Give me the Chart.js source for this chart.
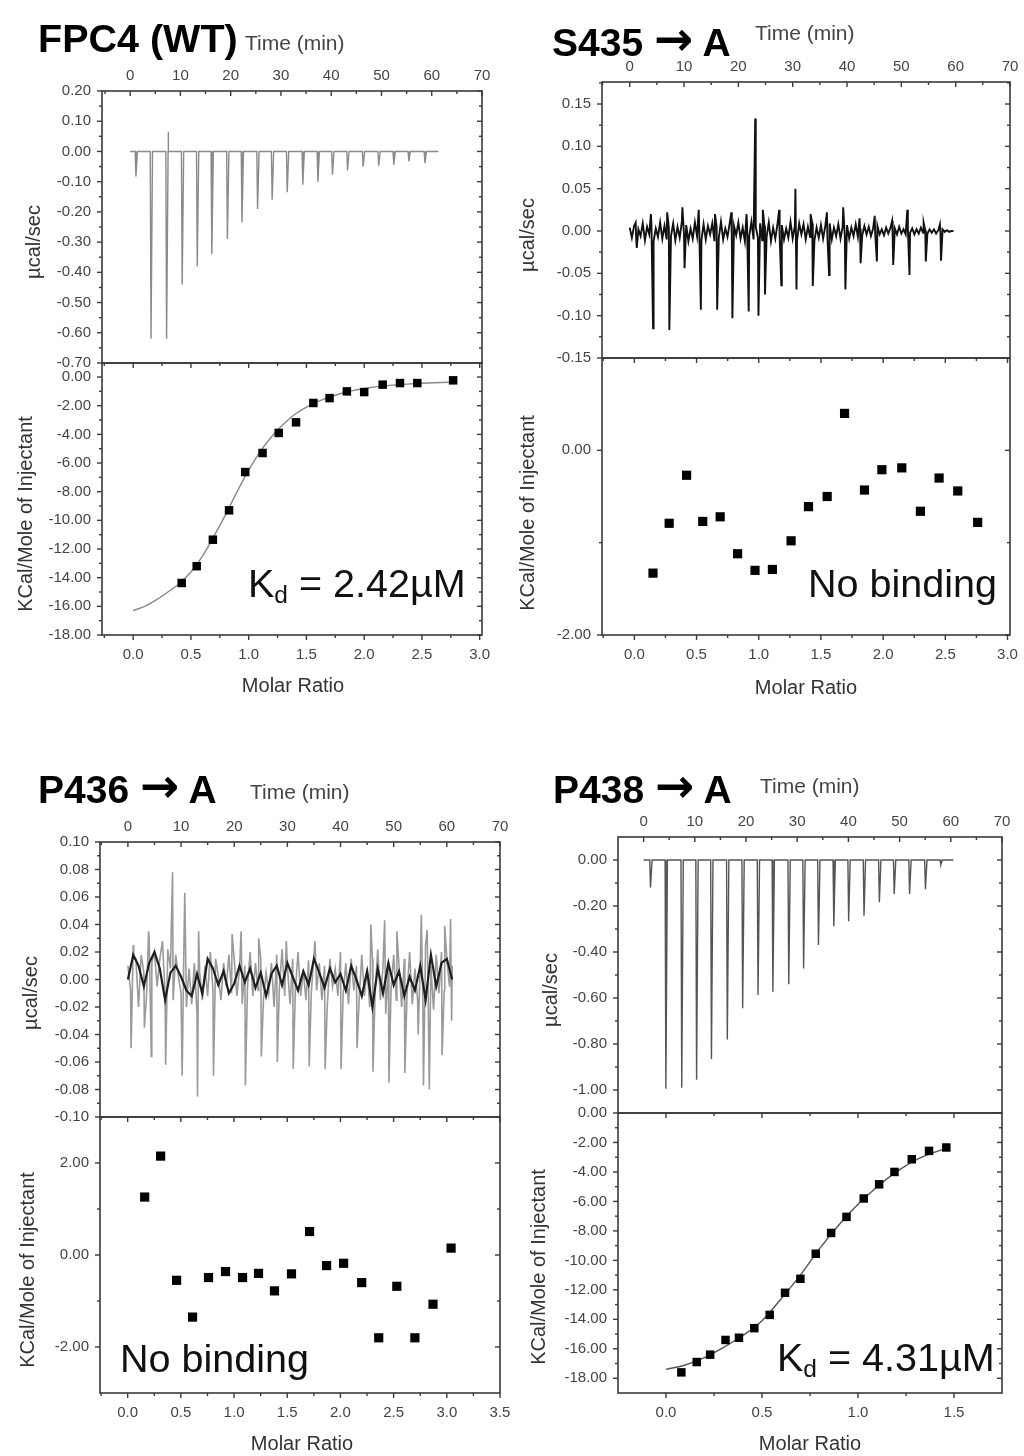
<!DOCTYPE html>
<html>
<head>
<meta charset="utf-8">
<script src="https://cdn.jsdelivr.net/npm/chart.js@4.4.1/dist/chart.umd.min.js"></script>
<style>
  body { margin: 0; background: #fff; }
  #page { position: relative; width: 1024px; height: 1456px; overflow: hidden; font-family: "Liberation Sans", Arial, sans-serif; }
  canvas { position: absolute; }
  .t { position: absolute; white-space: nowrap; line-height: 1; }
  .title { font-weight: bold; color: #000; }
  .arrow { font-family: "DejaVu Sans", sans-serif; font-weight: bold; font-size: 1.2em; position: relative; top: -0.02em; }
  .time { color: #444; }
  .ax { color: #333; }
  .big { color: #111; }
  .rot { transform: translate(-50%, -50%) rotate(-90deg); }
  .ctr { transform: translate(-50%, -50%); }
  .sub { font-size: 0.62em; position: relative; top: 0.28em; }
</style>
</head>
<body>
<div id="page"></div>
<script>
// ---------- FPC4 (WT) ----------
const wtInjTime = [1.0, 4.0, 7.1, 10.2, 13.2, 16.1, 19.2, 22.1, 25.2, 28.1, 31.1, 34.2, 37.2, 40.1, 43.1, 46.2, 49.3, 52.3, 55.3, 58.5];
const wtInjPeak = [-0.083, -0.62, -0.62, -0.44, -0.38, -0.34, -0.29, -0.235, -0.19, -0.16, -0.135, -0.11, -0.10, -0.077, -0.063, -0.05, -0.047, -0.044, -0.033, -0.039];
const wtSpikeTime = [7.6];
const wtSpikeVal = [0.065];
const wtRatio = [0.42, 0.55, 0.69, 0.83, 0.97, 1.12, 1.26, 1.41, 1.56, 1.70, 1.85, 2.00, 2.16, 2.31, 2.46, 2.77];
const wtHeat = [-14.37, -13.2, -11.35, -9.3, -6.63, -5.3, -3.9, -3.16, -1.81, -1.47, -1.0, -1.05, -0.53, -0.42, -0.42, -0.23];
const wtFitRatio = [0, 0.1, 0.2, 0.3, 0.4, 0.5, 0.6, 0.7, 0.8, 0.9, 1.0, 1.1, 1.2, 1.3, 1.4, 1.5, 1.6, 1.7, 1.8, 1.9, 2.0, 2.2, 2.4, 2.6, 2.8];
const wtFitHeat = [-16.3, -16.0, -15.55, -15.0, -14.4, -13.6, -12.5, -11.1, -9.6, -8.0, -6.5, -5.2, -4.15, -3.3, -2.6, -2.1, -1.7, -1.4, -1.15, -0.95, -0.8, -0.6, -0.48, -0.4, -0.35];

// ---------- S435 -> A ----------
const s435Step = 0.4;
const s435Noise = [
  0.004, -0.008, 0.006, -0.010, 0.002, -0.006, 0.009, -0.011, 0.005, -0.004,
  0.008, -0.012, 0.003, -0.007, 0.010, -0.009, 0.006, -0.010, 0.004, -0.006,
  0.009, -0.011, 0.005, -0.008, 0.011, -0.005, 0.007, -0.012, 0.003, -0.009,
  0.010, -0.006, 0.004, -0.011, 0.008, -0.010, 0.006, -0.004, 0.009, -0.012,
  0.005, -0.008, 0.011, -0.010, 0.003, -0.007, 0.009, -0.011, 0.006, -0.005,
  0.010, -0.009, 0.004, -0.012, 0.008, -0.006, 0.011, -0.010, 0.005, -0.008,
  0.009, -0.011, 0.006, -0.007, 0.010, -0.012, 0.004, -0.009, 0.008, -0.005,
  0.007, -0.010, 0.003, -0.008, 0.011, -0.009, 0.006, -0.011, 0.009, -0.004,
  0.008, -0.010, 0.005, -0.007, 0.009, -0.011, 0.004, -0.008, 0.007, -0.009,
  0.006, -0.008, 0.009, -0.010, 0.004, -0.006, 0.008, -0.009, 0.005, -0.007,
  0.007, -0.009, 0.004, -0.006, 0.008, -0.007, 0.003, -0.005, 0.006, -0.004,
  0.005, -0.006, 0.003, -0.005, 0.006, -0.004, 0.002, -0.005, 0.004, -0.003,
  0.004, -0.005, 0.003, -0.004, 0.005, -0.003, 0.002, -0.004, 0.003, -0.002,
  0.003, -0.004, 0.002, -0.003, 0.004, -0.002, 0.001, -0.003, 0.002, -0.002,
  0.002, -0.003, 0.001, -0.002, 0.002, -0.001, 0.001, -0.001, 0.000, 0.000
];
const s435DownTime = [1.3, 4.3, 7.3, 10.1, 13.1, 16.1, 18.9, 21.9, 23.7, 24.9, 27.9, 30.7, 33.7, 36.7, 39.7, 42.5, 45.5, 48.5, 51.5, 54.5, 57.3];
const s435DownVal = [-0.02, -0.115, -0.117, -0.044, -0.093, -0.093, -0.103, -0.095, -0.10, -0.075, -0.064, -0.069, -0.065, -0.052, -0.069, -0.038, -0.036, -0.040, -0.052, -0.036, -0.035];
const s435UpTime = [1.1, 3.9, 6.9, 9.7, 12.7, 15.7, 18.7, 21.5, 23.1, 24.5, 27.5, 30.5, 33.3, 36.3, 39.3, 42.3, 45.1, 48.3, 51.1, 54.1, 57.1];
const s435UpVal = [0.01, 0.02, 0.022, 0.028, 0.025, 0.02, 0.022, 0.02, 0.133, 0.025, 0.025, 0.05, 0.02, 0.022, 0.028, 0.015, 0.018, 0.012, 0.025, 0.01, 0.008];
const s435Ratio = [0.15, 0.28, 0.42, 0.55, 0.69, 0.83, 0.97, 1.11, 1.26, 1.40, 1.55, 1.69, 1.85, 1.99, 2.15, 2.30, 2.45, 2.60, 2.76];
const s435Heat = [-1.33, -0.79, -0.27, -0.77, -0.72, -1.12, -1.30, -1.29, -0.98, -0.61, -0.50, 0.40, -0.43, -0.21, -0.19, -0.66, -0.30, -0.44, -0.78];

// ---------- P436 -> A ----------
const p436Step = 0.5;
const p436Noise = [
  0.010, -0.008, 0.025, 0.015, -0.020, 0.018, 0.005, -0.012, 0.030, 0.012,
  0.020, -0.005, 0.015, 0.028, -0.010, 0.022, 0.008, -0.015, 0.018, 0.002,
  -0.010, 0.015, -0.020, 0.008, -0.018, 0.012, -0.025, 0.005, -0.015, 0.010,
  -0.012, 0.020, -0.008, 0.015, 0.003, -0.015, 0.012, -0.005, 0.018, -0.010,
  0.015, -0.012, 0.008, -0.018, 0.010, -0.005, 0.020, -0.012, 0.012, -0.008,
  0.015, -0.015, 0.005, -0.010, 0.012, -0.020, 0.018, -0.006, 0.022, -0.012,
  0.010, -0.018, 0.015, -0.008, 0.020, -0.012, 0.006, -0.015, 0.014, -0.010,
  0.018, -0.008, 0.012, -0.015, 0.010, -0.020, 0.015, -0.005, 0.008, -0.012,
  0.020, -0.010, 0.012, -0.018, 0.015, -0.008, 0.010, -0.015, 0.018, -0.012,
  0.008, -0.020, 0.015, -0.010, 0.022, -0.015, 0.010, -0.025, 0.012, -0.008,
  0.018, -0.015, 0.010, -0.020, 0.015, -0.012, 0.020, -0.018, 0.008, -0.015,
  0.012, -0.020, 0.025, -0.015, 0.010, -0.022, 0.018, -0.010, 0.020, -0.008,
  0.015, -0.005, 0.010
];
const p436CoreStep = 1.0;
const p436Core = [
  0.000, 0.018, 0.010, -0.005, 0.012, 0.020, 0.008, -0.015, 0.005, 0.010,
  0.002, -0.008, -0.012, 0.004, -0.010, 0.015, 0.008, -0.004, 0.006, -0.010,
  -0.003, 0.010, -0.002, 0.008, -0.006, 0.005, -0.012, 0.004, 0.010, -0.004,
  0.012, 0.002, -0.008, 0.006, -0.004, 0.015, 0.005, -0.006, 0.008, -0.002,
  0.004, -0.008, 0.010, 0.000, -0.012, 0.006, -0.020, 0.008, -0.010, 0.012,
  -0.004, 0.006, -0.012, 0.002, -0.008, 0.010, -0.015, 0.018, -0.005, 0.012,
  0.015, 0.000
];
const p436SpikeTime = [0.6, 1.1, 3.1, 3.9, 4.4, 7.1, 8.4, 10.2, 10.7, 13.1, 13.3, 16.1, 19.6, 21.3, 22.1, 24.6, 25.1, 28.1, 29.8, 31.1, 34.1, 35.2, 37.1, 40.1, 43.1, 45.7, 46.1, 48.3, 49.1, 50.6, 52.1, 54.6, 55.2, 55.6, 56.3, 56.7, 59.1, 59.6, 60.7, 60.9];
const p436SpikeVal = [-0.05, 0.015, -0.035, 0.035, -0.056, -0.062, 0.078, -0.07, 0.063, -0.085, 0.035, -0.07, 0.033, 0.035, -0.077, 0.03, -0.056, -0.06, 0.028, -0.065, -0.063, 0.028, -0.065, -0.065, -0.05, 0.04, -0.067, 0.043, -0.075, 0.035, -0.068, -0.04, 0.047, -0.077, 0.036, -0.08, -0.055, 0.039, 0.044, -0.03];
const p436Ratio = [0.16, 0.31, 0.46, 0.61, 0.76, 0.92, 1.08, 1.23, 1.38, 1.54, 1.71, 1.87, 2.03, 2.20, 2.36, 2.53, 2.70, 2.87, 3.04];
const p436Heat = [1.26, 2.15, -0.55, -1.35, -0.49, -0.36, -0.49, -0.40, -0.78, -0.41, 0.51, -0.23, -0.18, -0.60, -1.80, -0.68, -1.80, -1.07, 0.15];

// ---------- P438 -> A ----------
const p438InjTime = [1.2, 4.2, 7.3, 10.2, 13.1, 16.2, 19.2, 22.2, 25.1, 28.2, 31.1, 34.0, 37.0, 39.9, 42.9, 45.9, 48.8, 51.8, 54.9, 57.9];
const p438InjPeak = [-0.12, -0.995, -0.99, -0.955, -0.865, -0.78, -0.645, -0.587, -0.573, -0.54, -0.472, -0.37, -0.288, -0.266, -0.242, -0.184, -0.148, -0.148, -0.127, -0.02];
const p438Ratio = [0.08, 0.16, 0.23, 0.31, 0.38, 0.46, 0.54, 0.62, 0.70, 0.78, 0.86, 0.94, 1.03, 1.11, 1.19, 1.28, 1.37, 1.46];
const p438Heat = [-17.6, -16.9, -16.4, -15.4, -15.25, -14.6, -13.7, -12.2, -11.25, -9.55, -8.14, -7.05, -5.8, -4.84, -4.0, -3.14, -2.57, -2.34];
const p438FitRatio = [0.0, 0.1, 0.2, 0.3, 0.4, 0.5, 0.6, 0.7, 0.8, 0.9, 1.0, 1.1, 1.2, 1.3, 1.4, 1.47];
const p438FitHeat = [-17.4, -17.1, -16.6, -15.9, -15.1, -14.1, -12.6, -11.0, -9.2, -7.6, -6.2, -5.0, -4.0, -3.2, -2.65, -2.35];

// ---------- tick labels ----------
const timeTicks = [0, 10, 20, 30, 40, 50, 60, 70];
const ratioTicks3 = [0, 0.5, 1.0, 1.5, 2.0, 2.5, 3.0];
const ratioTicks35 = [0, 0.5, 1.0, 1.5, 2.0, 2.5, 3.0, 3.5];
const ratioTicks15 = [0, 0.5, 1.0, 1.5];
const wtRawTicks = [-0.7, -0.6, -0.5, -0.4, -0.3, -0.2, -0.1, 0, 0.1, 0.2];
const heatTicks18 = [-18, -16, -14, -12, -10, -8, -6, -4, -2, 0];
const s435RawTicks = [-0.15, -0.1, -0.05, 0, 0.05, 0.1, 0.15];
const s435HeatTicks = [-2, 0];
const p436RawTicks = [-0.1, -0.08, -0.06, -0.04, -0.02, 0, 0.02, 0.04, 0.06, 0.08, 0.1];
const p436HeatTicks = [-2, 0, 2];
const p438RawTicks = [-1.0, -0.8, -0.6, -0.4, -0.2, 0];

const FONT = '"Liberation Sans", Arial, sans-serif';
const page = document.getElementById('page');

function injTrace(times, peaks, tEnd, spikeT, spikeV) {
  const pts = [{x: 0, y: 0}];
  times.forEach((t, i) => {
    pts.push({x: t, y: 0}, {x: t + 0.15, y: peaks[i]}, {x: t + 0.45, y: 0});
  });
  (spikeT || []).forEach((t, i) => {
    pts.push({x: t - 0.05, y: 0}, {x: t, y: spikeV[i]}, {x: t + 0.05, y: 0});
  });
  pts.push({x: tEnd, y: 0});
  return pts.sort((a, b) => a.x - b.x);
}

function noisyTrace(step, noise, spikeLists) {
  const pts = noise.map((v, i) => ({x: i * step, y: v}));
  spikeLists.forEach(([ts, vs]) => ts.forEach((t, i) => pts.push({x: t, y: vs[i]})));
  return pts.sort((a, b) => a.x - b.x);
}

const xy = (xs, ys) => xs.map((x, i) => ({x, y: ys[i]}));

function line(data, color, width) {
  return {data, showLine: true, borderColor: color, borderWidth: width, pointRadius: 0, tension: 0, fill: false};
}
function squares(data, r) {
  return {data, showLine: false, pointStyle: 'rect', pointRadius: r, backgroundColor: '#000', borderWidth: 0};
}
function smooth(data, color, width) {
  return {data, showLine: true, borderColor: color, borderWidth: width, pointRadius: 0, tension: 0.4, cubicInterpolationMode: 'monotone', fill: false};
}

// frame + Origin style tick marks on all four sides
const framePlugin = {
  id: 'frame',
  afterDraw(chart) {
    const {ctx, chartArea: a} = chart;
    const sx = chart.scales.x, sy = chart.scales.y;
    const bottomTicks = chart.options.plugins.frame.bottomTicks;
    const mids = s => {
      const t = s.ticks.map(k => k.value);
      const st = t[1] - t[0];
      const out = [];
      for (let i = -1; i < t.length; i++) {
        const v = t[0] + st * (i + 0.5);
        if (v > s.min + 1e-9 && v < s.max - 1e-9) out.push(v);
      }
      return out;
    };
    const seg = (x1, y1, x2, y2) => { ctx.beginPath(); ctx.moveTo(x1, y1); ctx.lineTo(x2, y2); ctx.stroke(); };
    ctx.save();
    ctx.strokeStyle = '#3a3a3a';
    ctx.lineWidth = 1.6;
    ctx.strokeRect(a.left, a.top, a.right - a.left, a.bottom - a.top);
    ctx.lineWidth = 1.4;
    [[sx.ticks.map(k => k.value), 5], [mids(sx), 3]].forEach(([vals, len]) => vals.forEach(v => {
      const px = sx.getPixelForValue(v);
      seg(px, a.top, px, a.top + len);
      if (bottomTicks) seg(px, a.bottom, px, a.bottom + len);
    }));
    [[sy.ticks.map(k => k.value), 5], [mids(sy), 3]].forEach(([vals, len]) => vals.forEach(v => {
      const py = sy.getPixelForValue(v);
      seg(a.left - len, py, a.left, py);
      seg(a.right - len, py, a.right, py);
    }));
    ctx.restore();
  }
};

function plot(p) {
  const padL = 100, padR = 24, padT = 40, padB = 44, AXW = 60, AXH = 30;
  const c = document.createElement('canvas');
  c.width = p.frame.w + padL + padR;
  c.height = p.frame.h + padT + padB;
  c.style.left = (p.frame.l - padL) + 'px';
  c.style.top = (p.frame.t - padT) + 'px';
  page.appendChild(c);
  const onTop = p.x.pos === 'top';
  return new Chart(c, {
    type: 'scatter',
    data: {datasets: p.datasets},
    options: {
      responsive: false,
      animation: false,
      devicePixelRatio: 1,
      layout: {padding: {left: padL - AXW, right: padR, top: onTop ? padT - AXH : padT, bottom: onTop ? padB : padB - AXH}},
      plugins: {legend: {display: false}, tooltip: {enabled: false}, frame: {bottomTicks: !onTop}},
      scales: {
        x: {
          type: 'linear', position: p.x.pos, min: p.x.min, max: p.x.max,
          afterFit: s => { s.height = AXH; },
          afterBuildTicks: s => { s.ticks = p.x.ticks.map(v => ({value: v})); },
          grid: {display: false, drawTicks: false}, border: {display: false},
          ticks: {autoSkip: false, maxRotation: 0, padding: onTop ? 6 : 11, color: '#444',
                  font: {family: FONT, size: 15}, callback: p.x.fmt}
        },
        y: {
          type: 'linear', position: 'left', min: p.y.min, max: p.y.max,
          afterFit: s => { s.width = AXW; },
          afterBuildTicks: s => { s.ticks = p.y.ticks.map(v => ({value: v})); },
          grid: {display: false, drawTicks: false}, border: {display: false},
          ticks: {autoSkip: false, padding: 11, color: '#444',
                  font: {family: FONT, size: 15}, callback: v => v.toFixed(2)}
        }
      }
    },
    plugins: [framePlugin]
  });
}

const fmtTime = v => String(v);
const fmtRatio = v => v.toFixed(1);

// ----- FPC4 (WT) -----
plot({frame: {l: 102, t: 91, w: 380, h: 272},
  x: {pos: 'top', min: -5.6, max: 70, ticks: timeTicks, fmt: fmtTime},
  y: {min: -0.7, max: 0.2, ticks: wtRawTicks},
  datasets: [line(injTrace(wtInjTime, wtInjPeak, 61.3, wtSpikeTime, wtSpikeVal), '#8a8a8a', 1.4)]});
plot({frame: {l: 102, t: 363, w: 380, h: 272},
  x: {pos: 'bottom', min: -0.27, max: 3.02, ticks: ratioTicks3, fmt: fmtRatio},
  y: {min: -18, max: 0.98, ticks: heatTicks18},
  datasets: [squares(xy(wtRatio, wtHeat), 6), smooth(xy(wtFitRatio, wtFitHeat), '#888', 1.4)]});

// ----- S435 -> A -----
plot({frame: {l: 602, t: 82, w: 408, h: 276},
  x: {pos: 'top', min: -5.1, max: 70, ticks: timeTicks, fmt: fmtTime},
  y: {min: -0.15, max: 0.176, ticks: s435RawTicks},
  datasets: [line(noisyTrace(s435Step, s435Noise, [[s435DownTime, s435DownVal], [s435UpTime, s435UpVal]]), '#111', 1.9)]});
plot({frame: {l: 602, t: 358, w: 408, h: 277},
  x: {pos: 'bottom', min: -0.26, max: 3.02, ticks: ratioTicks3, fmt: fmtRatio},
  y: {min: -2, max: 1, ticks: s435HeatTicks},
  datasets: [squares(xy(s435Ratio, s435Heat), 6.5)]});

// ----- P436 -> A -----
plot({frame: {l: 100, t: 842, w: 400, h: 275},
  x: {pos: 'top', min: -5.25, max: 70, ticks: timeTicks, fmt: fmtTime},
  y: {min: -0.1, max: 0.1, ticks: p436RawTicks},
  datasets: [
    line(noisyTrace(p436CoreStep, p436Core, []), '#1e1e1e', 2.2),
    line(noisyTrace(p436Step, p436Noise, [[p436SpikeTime, p436SpikeVal]]), 'rgba(120,120,120,0.75)', 1.6)
  ]});
plot({frame: {l: 100, t: 1117, w: 400, h: 276},
  x: {pos: 'bottom', min: -0.26, max: 3.5, ticks: ratioTicks35, fmt: fmtRatio},
  y: {min: -3, max: 3, ticks: p436HeatTicks},
  datasets: [squares(xy(p436Ratio, p436Heat), 6.5)]});

// ----- P438 -> A -----
plot({frame: {l: 618, t: 837, w: 384, h: 276},
  x: {pos: 'top', min: -5, max: 70, ticks: timeTicks, fmt: fmtTime},
  y: {min: -1.1, max: 0.1, ticks: p438RawTicks},
  datasets: [line(injTrace(p438InjTime, p438InjPeak, 60.5), '#555', 1.4)]});
plot({frame: {l: 618, t: 1113, w: 384, h: 280},
  x: {pos: 'bottom', min: -0.25, max: 1.75, ticks: ratioTicks15, fmt: fmtRatio},
  y: {min: -19, max: 0, ticks: heatTicks18},
  datasets: [squares(xy(p438Ratio, p438Heat), 6), smooth(xy(p438FitRatio, p438FitHeat), '#555', 1.4)]});

// ---------- text ----------
function text(html, cls, x, baseline, size) {
  const d = document.createElement('div');
  d.className = 't ' + cls;
  d.style.fontSize = size + 'px';
  d.style.left = x + 'px';
  d.style.top = (baseline - 0.8465 * size) + 'px';
  d.innerHTML = html;
  page.appendChild(d);
}
function centred(html, cls, cx, cy, size, rotate) {
  const d = document.createElement('div');
  d.className = 't ' + cls + (rotate ? ' rot' : ' ctr');
  d.style.fontSize = size + 'px';
  d.style.left = cx + 'px';
  d.style.top = cy + 'px';
  d.innerHTML = html;
  page.appendChild(d);
}

const arrow = ' <span class="arrow">\u2192</span> ';
text('FPC4 (WT)', 'title', 38, 52, 39.5);
text('S435' + arrow + 'A', 'title', 552, 50, 39);
text('P436' + arrow + 'A', 'title', 38, 797, 39);
text('P438' + arrow + 'A', 'title', 553, 797, 39);

text('Time (min)', 'time', 245, 50, 21);
text('Time (min)', 'time', 755, 40, 21);
text('Time (min)', 'time', 250, 799, 21);
text('Time (min)', 'time', 760, 793, 21);

centred('\u00b5cal/sec', 'ax', 33, 242, 20, true);
centred('\u00b5cal/sec', 'ax', 527, 235, 20, true);
centred('\u00b5cal/sec', 'ax', 30, 993, 20, true);
centred('\u00b5cal/sec', 'ax', 550, 990, 20, true);

centred('KCal/Mole of Injectant', 'ax', 25, 514, 20, true);
centred('KCal/Mole of Injectant', 'ax', 527, 513, 20, true);
centred('KCal/Mole of Injectant', 'ax', 27, 1270, 20, true);
centred('KCal/Mole of Injectant', 'ax', 538, 1267, 20, true);

centred('Molar Ratio', 'ax', 293, 685, 20, false);
centred('Molar Ratio', 'ax', 806, 687, 20, false);
centred('Molar Ratio', 'ax', 302, 1443, 20, false);
centred('Molar Ratio', 'ax', 810, 1443, 20, false);

text('K<span class="sub">d</span> = 2.42\u00b5M', 'big', 248, 597, 39.5);
text('K<span class="sub">d</span> = 4.31\u00b5M', 'big', 777, 1371, 39.5);
text('No binding', 'big', 808, 597, 39.5);
text('No binding', 'big', 120, 1372, 39.5);
</script>
</body>
</html>
